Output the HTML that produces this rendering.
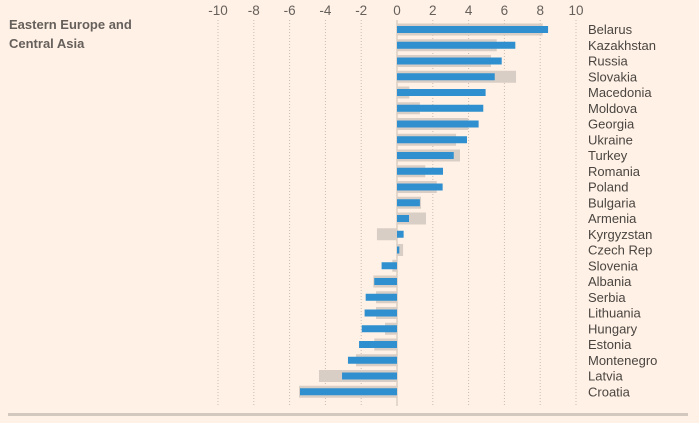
<!DOCTYPE html>
<html><head><meta charset="utf-8">
<style>
html,body{margin:0;padding:0;background:#fff1e5;}
#wrap{position:relative;width:699px;height:423px;background:#fff1e5;overflow:hidden;font-family:"Liberation Sans",sans-serif;}
#title{position:absolute;left:9px;top:15px;font-size:13px;font-weight:bold;color:#66605c;line-height:19px;}
svg{position:absolute;left:0;top:0;}
</style></head>
<body>
<div id="wrap">
<div id="title">Eastern Europe and<br>Central Asia</div>
<svg id="chart" width="699" height="423"></svg>
</div>
<script>
const categories=["Belarus","Kazakhstan","Russia","Slovakia","Macedonia","Moldova","Georgia","Ukraine","Turkey","Romania","Poland","Bulgaria","Armenia","Kyrgyzstan","Czech Rep","Slovenia","Albania","Serbia","Lithuania","Hungary","Estonia","Montenegro","Latvia","Croatia"];
const currentValues=[8.44,6.61,5.85,5.46,4.95,4.82,4.56,3.91,3.17,2.57,2.55,1.28,0.67,0.37,0.13,-0.86,-1.27,-1.75,-1.81,-1.97,-2.12,-2.74,-3.07,-5.42];
const previousValues=[8.14,5.57,5.25,6.65,0.69,1.28,3.98,3.30,3.52,1.58,2.22,1.34,1.62,-1.12,0.34,-0.26,-1.32,-1.17,-1.17,-0.67,-1.27,-2.29,-4.36,-5.47];
const tickValues=[-10,-8,-6,-4,-2,0,2,4,6,8,10];
const tickLabels=["-10","-8","-6","-4","-2","0","2","4","6","8","10"];

const NS="http://www.w3.org/2000/svg";
const svg=document.getElementById('chart');
const x0=397, unit=17.9, rowTop=29.5, rowStep=15.75;
function xs(v){return x0+v*unit;}
function ys(i){return rowTop+i*rowStep;}
function mk(tag,attrs){const e=document.createElementNS(NS,tag);for(const k in attrs)e.setAttribute(k,attrs[k]);svg.appendChild(e);return e;}

tickValues.forEach((t,i)=>{
  const g=mk('line',{x1:xs(t),x2:xs(t),y1:20,y2:406,stroke:'#c9bdb3','stroke-width':1,'stroke-dasharray':t===0?'':'1,2'});
  
  
  const tx=mk('text',{x:xs(t),y:15,'text-anchor':'middle','font-size':13.5,fill:'#66605c','font-family':'Liberation Sans, sans-serif'});
  tx.textContent=tickLabels[i];
  
  
});

categories.forEach((c,i)=>{
  const cy=ys(i);
  const p=previousValues[i];
  const r1=mk('rect',{x:Math.min(xs(0),xs(p)),y:cy-6,width:Math.abs(xs(p)-xs(0)),height:12,fill:'#d9cec5'});
  
  
  const v=currentValues[i];
  const r2=mk('rect',{x:Math.min(xs(0),xs(v)),y:cy-3.5,width:Math.abs(xs(v)-xs(0)),height:7,fill:'#2f8fcf'});
  
  
  const t=mk('text',{x:588,y:cy+4.5,'font-size':13,fill:'#4a4541','font-family':'Liberation Sans, sans-serif'});
  t.textContent=c;
  
  
});
const b=mk('rect',{x:8,y:413,width:680,height:3,fill:'#d3c8be'});


</script>
</body></html>
